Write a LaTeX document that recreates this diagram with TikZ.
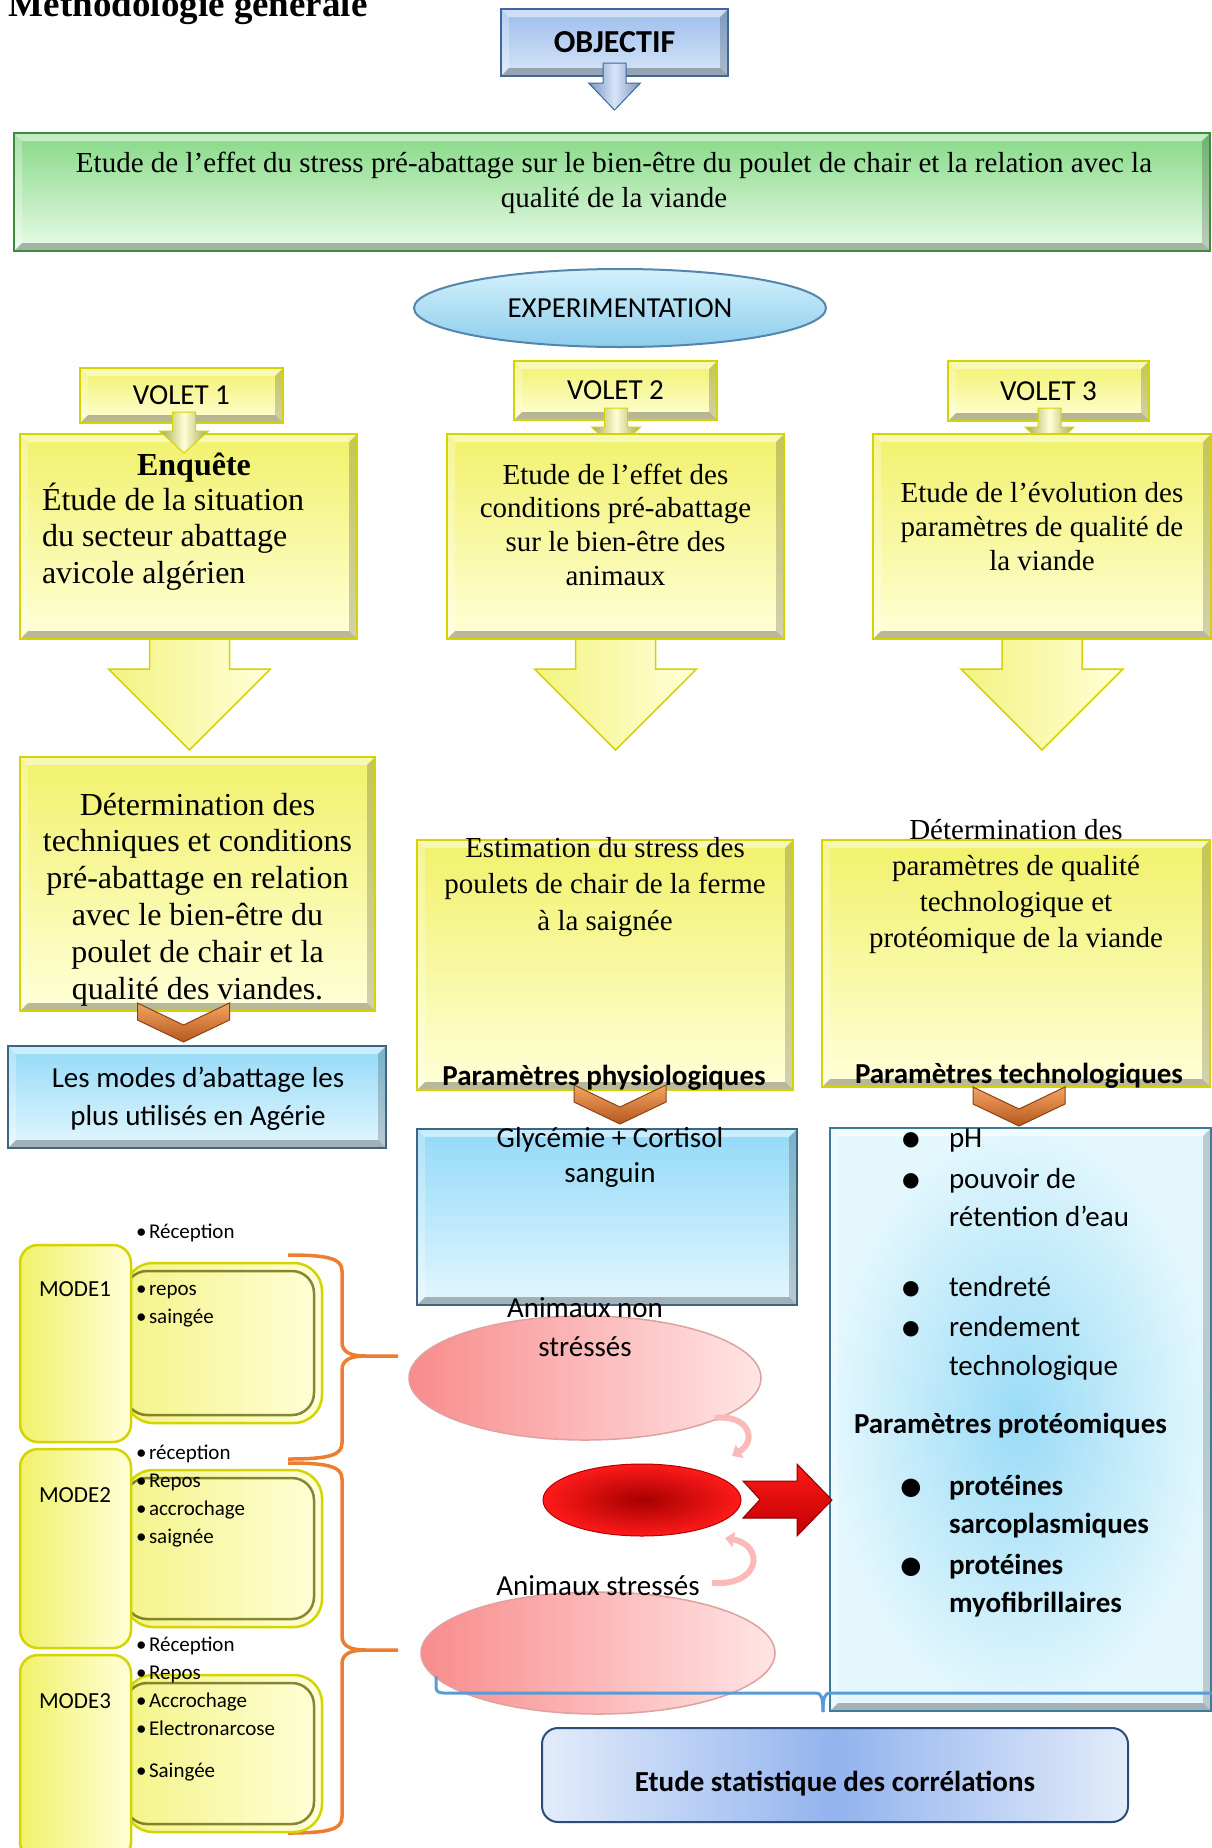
\documentclass[tikz,border=0pt]{standalone}
\usepackage{fontspec}
\setmainfont{Liberation Serif}
\newfontfamily\calib{Carlito}
\usetikzlibrary{calc,shapes.geometric,arrows.meta}

% palette
\definecolor{yTop}{HTML}{F1F16B}
\definecolor{yBot}{HTML}{FFFFD9}
\definecolor{yEdge}{HTML}{D4D400}
\definecolor{bTop}{HTML}{93D9F7}
\definecolor{bBot}{HTML}{E3F7FE}
\definecolor{bEdge}{HTML}{3F6585}
\definecolor{oTop}{HTML}{9BBDEB}
\definecolor{oBot}{HTML}{D7E5F8}
\definecolor{oEdge}{HTML}{3E67A3}
\definecolor{gTop}{HTML}{86D986}
\definecolor{gBot}{HTML}{E9FBE9}
\definecolor{gEdge}{HTML}{3D8B3D}
\definecolor{pIn}{HTML}{9ADBF6}
\definecolor{pOut}{HTML}{E3F7FD}
\definecolor{pEdge}{HTML}{3C7C99}
\definecolor{rosL}{HTML}{F88C8C}
\definecolor{rosR}{HTML}{FFE5E5}
\definecolor{rosEdge}{HTML}{E0A0A0}
\definecolor{redIn}{HTML}{A60000}
\definecolor{redOut}{HTML}{FF1A1A}
\definecolor{stSide}{HTML}{E2ECFA}
\definecolor{stMid}{HTML}{93B3EE}
\definecolor{stEdge}{HTML}{2E4C78}
\definecolor{brOrange}{HTML}{ED7D31}
\definecolor{brBlue}{HTML}{5B9BD5}
\definecolor{chTop}{HTML}{F3A564}
\definecolor{chBot}{HTML}{B5571C}
\definecolor{chEdge}{HTML}{8E4212}
\definecolor{expTop}{HTML}{D4F1FC}
\definecolor{expBot}{HTML}{8DCDEC}
\definecolor{expEdge}{HTML}{5585AB}

\newcommand\fs[2]{\fontsize{#1}{#2}\selectfont}
\newcommand\tabc[1]{\begin{tabular}[t]{@{}c@{}}#1\end{tabular}}
\newcommand\tabl[1]{\begin{tabular}[t]{@{}l@{}}#1\end{tabular}}
\newcommand\bitem{\makebox[49pt][l]{\raisebox{-5pt}{\scalebox{1.5}{\textbullet}}}}
\newcommand\bskip{\hspace*{49pt}}
\newcommand\mitem{\makebox[13pt][l]{\textbullet}}

% block arrow pointing down: style, x, top, shaft half width, shaft length, head half width, head length
\newcommand\dnarrow[7]{\shade[#1] ({#2-#4},#3) -- ({#2-#4},{#3+#5}) -- ({#2-#6},{#3+#5}) -- (#2,{#3+#5+#7}) -- ({#2+#6},{#3+#5}) -- ({#2+#4},{#3+#5}) -- ({#2+#4},#3) -- cycle;}
% orange chevron: centre x, top y
\newcommand\chev[2]{\shade[chevst] ({#1-46},#2) -- (#1,{#2+22}) -- ({#1+46},#2) -- ({#1+46},{#2+17}) -- (#1,{#2+39}) -- ({#1-46},{#2+17}) -- cycle;}
% orange curly brace: top, tip, bottom
\newcommand\obrace[3]{%
  \draw[bracest] (288,#1) .. controls (330,#1) and (342,{#1+4}) .. (342,{#1+16}) -- (342,{#2-14}) .. controls (342,{#2-4}) and (350,#2) .. (366,#2) -- (398,#2);
  \draw[bracest] (366,#2) .. controls (350,#2) and (342,{#2+4}) .. (342,{#2+14}) -- (342,{#3-16}) .. controls (342,{#3-4}) and (330,#3) .. (288,#3);}

\begin{document}
\begin{tikzpicture}[x=1pt,y=-1pt,
  every node/.style={inner sep=0pt, outer sep=0pt},
  bev/.style={path picture={
    \fill[white,opacity=.5] (path picture bounding box.north west) -- (path picture bounding box.north east)
      -- ($(path picture bounding box.north east)+(-#1,-#1)$) -- ($(path picture bounding box.north west)+(#1,-#1)$) -- cycle;
    \fill[white,opacity=.28] (path picture bounding box.north west) -- ($(path picture bounding box.north west)+(#1,-#1)$)
      -- ($(path picture bounding box.south west)+(#1,#1)$) -- (path picture bounding box.south west) -- cycle;
    \fill[black,opacity=.18] (path picture bounding box.north east) -- (path picture bounding box.south east)
      -- ($(path picture bounding box.south east)+(-#1,#1)$) -- ($(path picture bounding box.north east)+(-#1,-#1)$) -- cycle;
    \fill[black,opacity=.28] (path picture bounding box.south west) -- (path picture bounding box.south east)
      -- ($(path picture bounding box.south east)+(-#1,#1)$) -- ($(path picture bounding box.south west)+(#1,#1)$) -- cycle;
  }}, bev/.default=8pt,
  ybox/.style={rectangle, top color=yTop, bottom color=yBot, draw=yEdge, line width=1.5pt, bev},
  bluebox/.style={rectangle, top color=bTop, bottom color=bBot, draw=bEdge, line width=1.5pt, bev},
  objbox/.style={rectangle, top color=oTop, bottom color=oBot, draw=oEdge, line width=1.5pt, bev},
  greenbox/.style={rectangle, top color=gTop, bottom color=gBot, draw=gEdge, line width=2pt, bev},
  parbox/.style={rectangle, inner color=pIn, outer color=pOut, draw=pEdge, line width=2pt, bev},
  expell/.style={ellipse, top color=expTop, bottom color=expBot, draw=expEdge, line width=2pt},
  pinkell/.style={ellipse, left color=rosL, right color=rosR, draw=rosEdge, line width=1.5pt},
  redell/.style={ellipse, inner color=redIn, outer color=redOut, draw=red!70!black, line width=1pt},
  tabst/.style={rectangle, rounded corners=18pt, left color=yTop, right color=yBot, draw=yEdge, line width=2.5pt},
  panelst/.style={rectangle, rounded corners=28pt, left color=yTop!80!white, right color=yBot, draw=yEdge, line width=2.5pt},
  panelin/.style={rectangle, rounded corners=22pt, draw=black!55!yEdge, line width=2.5pt, opacity=.75},
  statbox/.style={rectangle, rounded corners=16pt, left color=stSide, right color=stSide, middle color=stMid, draw=stEdge, line width=2pt},
  bigarr/.style={left color=yTop!85!white, right color=yBot, draw=yEdge, line width=1.5pt},
  smallarr/.style={left color=black!30!yTop, right color=black!30!yTop, middle color=yBot, draw=yEdge, line width=1pt},
  blockblue/.style={left color=oEdge!70!white, right color=oEdge!70!white, middle color=oBot, draw=oEdge, line width=1pt},
  chevst/.style={top color=chTop, bottom color=chBot, draw=chEdge, line width=1pt},
  redarr/.style={top color=redOut, bottom color=red!75!black, draw=red!55!black, line width=1pt},
  pinkarr/.style={draw=rosL!60!white, line width=6pt, -{Triangle[width=15pt,length=9pt]}},
  bracest/.style={draw=brOrange, line width=3.5pt},
  bluebr/.style={draw=brBlue, line width=3pt}
]
\useasboundingbox (0,0) rectangle (1212,1848);
\fill[white] (0,0) rectangle (1212,1848);

% heading
\node[anchor=base west, font=\bfseries\fs{37}{40}] (title) at (9,16) {Méthodologie générale};

% objective
\node[objbox, minimum width=227pt, minimum height=67pt, font=\calib\bfseries\fs{32}{36}] (obj) at (614.5,42.5) {OBJECTIF};
\dnarrow{blockblue}{614.5}{63}{11.5}{20}{26}{27}
\node[greenbox, minimum width=1196pt, minimum height=118pt] (goal) at (612,192) {};
\node[anchor=base, font=\fs{29}{35}] (goaltxt) at (614,172)
  {\tabc{Etude de l’effet du stress pré-abattage sur le bien-être du poulet de chair et la relation avec la\\qualité de la viande}};

% experimentation
\node[expell, minimum width=412pt, minimum height=78pt, font=\calib\fs{29}{35}] (exp) at (620,308) {EXPERIMENTATION};

% the three parts
\node[ybox, minimum width=203pt, minimum height=55pt, font=\calib\fs{29}{35}] (v1) at (181.5,395.5) {VOLET 1};
\node[ybox, minimum width=203pt, minimum height=59pt, font=\calib\fs{29}{35}] (v2) at (615.5,390.5) {VOLET 2};
\node[ybox, minimum width=201pt, minimum height=60pt, font=\calib\fs{29}{35}] (v3) at (1048.5,391) {VOLET 3};

\dnarrow{smallarr}{616}{408}{11.5}{19}{24.5}{23}
\dnarrow{smallarr}{1049.5}{408}{11.5}{19}{24.5}{23}
\dnarrow{bigarr}{189.5}{630}{40}{39}{81}{81}
\dnarrow{bigarr}{615.5}{630}{40}{39}{81}{81}
\dnarrow{bigarr}{1042}{630}{40}{39}{81}{81}

\node[ybox, minimum width=337pt, minimum height=205pt] (b1) at (188.5,536.5) {};
\node[ybox, minimum width=337pt, minimum height=205pt] (b2) at (615.5,536.5) {};
\node[ybox, minimum width=338pt, minimum height=205pt] (b3) at (1042,536.5) {};
\dnarrow{smallarr}{184}{412}{11.5}{19}{24.5}{22}

\node[anchor=base, font=\bfseries\fs{32}{36}] (enq) at (194,475) {Enquête};
\node[anchor=base west, font=\fs{32}{36.5}] (b1txt) at (42,510) {\tabl{Étude de la situation\\du secteur abattage\\avicole algérien}};
\node[anchor=base, font=\fs{29}{33.7}] (b2txt) at (615.5,484) {\tabc{Etude de l’effet des\\conditions pré-abattage\\sur le bien-être des\\animaux}};
\node[anchor=base, font=\fs{29}{34}] (b3txt) at (1042,502) {\tabc{Etude de l’évolution des\\paramètres de qualité de\\la viande}};

% second row
\node[ybox, minimum width=355pt, minimum height=254pt] (d1) at (197.5,884) {};
\node[ybox, minimum width=376pt, minimum height=250pt] (e2) at (605,965) {};
\node[ybox, minimum width=388pt, minimum height=247pt] (e3) at (1016,963.5) {};

\chev{183.5}{1003}
\chev{620}{1085}
\chev{1019}{1087}

\node[anchor=base, font=\fs{32}{36.8}] (d1txt) at (197.5,815) {\tabc{Détermination des\\techniques et conditions\\pré-abattage en relation\\avec le bien-être du\\poulet de chair et la\\qualité des viandes.}};
\node[anchor=base, font=\fs{29}{36.5}] (e2txt) at (605,857) {\tabc{Estimation du stress des\\poulets de chair de la ferme\\à la saignée}};
\node[anchor=base, font=\calib\bfseries\fs{29}{35}] (e2lab) at (604,1085) {Paramètres physiologiques};
\node[anchor=base, font=\fs{29}{36.3}] (e3txt) at (1016,839) {\tabc{Détermination des\\paramètres de qualité\\technologique et\\protéomique de la viande}};
\node[anchor=base, font=\calib\bfseries\fs{29}{35}] (e3lab) at (1019,1083) {Paramètres technologiques};

% third row
\node[bluebox, minimum width=378pt, minimum height=102pt] (modes) at (197,1097) {};
\node[anchor=base, font=\calib\fs{29}{38}] (modestxt) at (198,1087) {\tabc{Les modes d’abattage les\\plus utilisés en Agérie}};
\node[bluebox, minimum width=380pt, minimum height=176pt] (glyc) at (607,1217) {};
\node[anchor=base, font=\calib\fs{29}{35}] (glyctxt) at (610,1147) {\tabc{Glycémie + Cortisol\\sanguin}};
\node[parbox, minimum width=381pt, minimum height=583pt] (params) at (1020.5,1419.5) {};

% slaughter modes
\obrace{1255}{1356}{1459}
\obrace{1463}{1650}{1833}

\node[panelst, minimum width=197pt, minimum height=160pt] (p1) at (223.5,1343) {};
\node[panelin, minimum width=189pt, minimum height=144pt] (p1i) at (219.5,1343) {};
\node[tabst, minimum width=111pt, minimum height=197pt] (m1) at (75.5,1343.5) {};
\node[panelst, minimum width=197pt, minimum height=157pt] (p2) at (223.5,1548.5) {};
\node[panelin, minimum width=189pt, minimum height=141pt] (p2i) at (219.5,1548.5) {};
\node[tabst, minimum width=111pt, minimum height=199pt] (m2) at (75.5,1548.5) {};
\node[panelst, minimum width=197pt, minimum height=157pt] (p3) at (223.5,1753.5) {};
\node[panelin, minimum width=189pt, minimum height=141pt] (p3i) at (219.5,1753.5) {};
\node[tabst, minimum width=111pt, minimum height=205pt] (m3) at (75.5,1757.5) {};

\node[anchor=base west, font=\calib\fs{23}{28}] (m1lab) at (39,1296) {MODE1};
\node[anchor=base west, font=\calib\fs{23}{28}] (m2lab) at (39,1502) {MODE2};
\node[anchor=base west, font=\calib\fs{23}{28}] (m3lab) at (39,1708) {MODE3};
\node[anchor=base west, font=\calib\fs{21}{28}] (m1list) at (136,1238) {\tabl{\mitem Réception\\[29pt]\mitem repos\\\mitem saingée}};
\node[anchor=base west, font=\calib\fs{21}{28}] (m2list) at (136,1459) {\tabl{\mitem réception\\\mitem Repos\\\mitem accrochage\\\mitem saignée}};
\node[anchor=base west, font=\calib\fs{21}{28}] (m3list) at (136,1651) {\tabl{\mitem Réception\\\mitem Repos\\\mitem Accrochage\\\mitem Electronarcose\\[14pt]\mitem Saingée}};

% stressed / non stressed animals
\node[pinkell, minimum width=352pt, minimum height=124pt] (ns) at (585,1378) {};
\node[anchor=base, font=\calib\fs{29}{39}] (nstxt) at (585,1317) {\tabc{Animaux non\\stréssés}};
\node[redell, minimum width=198pt, minimum height=72pt] (red) at (642,1500) {};
\node[pinkell, minimum width=354pt, minimum height=122pt] (st) at (598,1653) {};
\node[anchor=base, font=\calib\fs{29}{35}] (sttxt) at (598,1595) {Animaux stressés};

\coordinate (ca1) at (715,1418);
\coordinate (ca2) at (732,1456);
\coordinate (cb1) at (712,1583);
\coordinate (cb2) at (725,1538);
\draw[pinkarr] (ca1) .. controls (748,1414) and (758,1440) .. (ca2);
\draw[pinkarr] (cb1) .. controls (762,1586) and (764,1545) .. (cb2);

\shade[redarr] (743,1481) -- (760,1499.5) -- (743,1518) -- (797,1518) -- (797,1536) -- (832,1500) -- (797,1464) -- (797,1481) -- cycle;

% measured parameters
\node[anchor=base west, font=\calib\fs{29}{38}] (plist1) at (900,1147)
  {\tabl{\bitem pH\\[3pt]\bitem pouvoir de\\\bskip rétention d’eau\\[32pt]\bitem tendreté\\[2pt]\bitem rendement\\[1pt]\bskip technologique}};
\node[anchor=base west, font=\calib\bfseries\fs{29}{35}] (phdr) at (854,1433) {Paramètres protéomiques};
\node[anchor=base west, font=\calib\bfseries\fs{29}{38}] (plist2) at (900,1495)
  {\tabl{\bitem protéines\\\bskip sarcoplasmiques\\[3pt]\bitem protéines\\\bskip myofibrillaires}};

% grouping bracket and final step
\draw[bluebr] (436,1676) -- (436,1687) .. controls (436,1691) and (438,1693) .. (444,1693) -- (816,1693)
  .. controls (821,1693) and (823,1697) .. (823,1712);
\draw[bluebr] (823,1712) .. controls (823,1697) and (825,1693) .. (830,1693) -- (1212,1693);

\node[statbox, minimum width=586pt, minimum height=94pt] (stat) at (835,1775) {};
\node[anchor=base, font=\calib\bfseries\fs{29}{35}] (stattxt) at (835,1791) {Etude statistique des corrélations};
\end{tikzpicture}
\end{document}
